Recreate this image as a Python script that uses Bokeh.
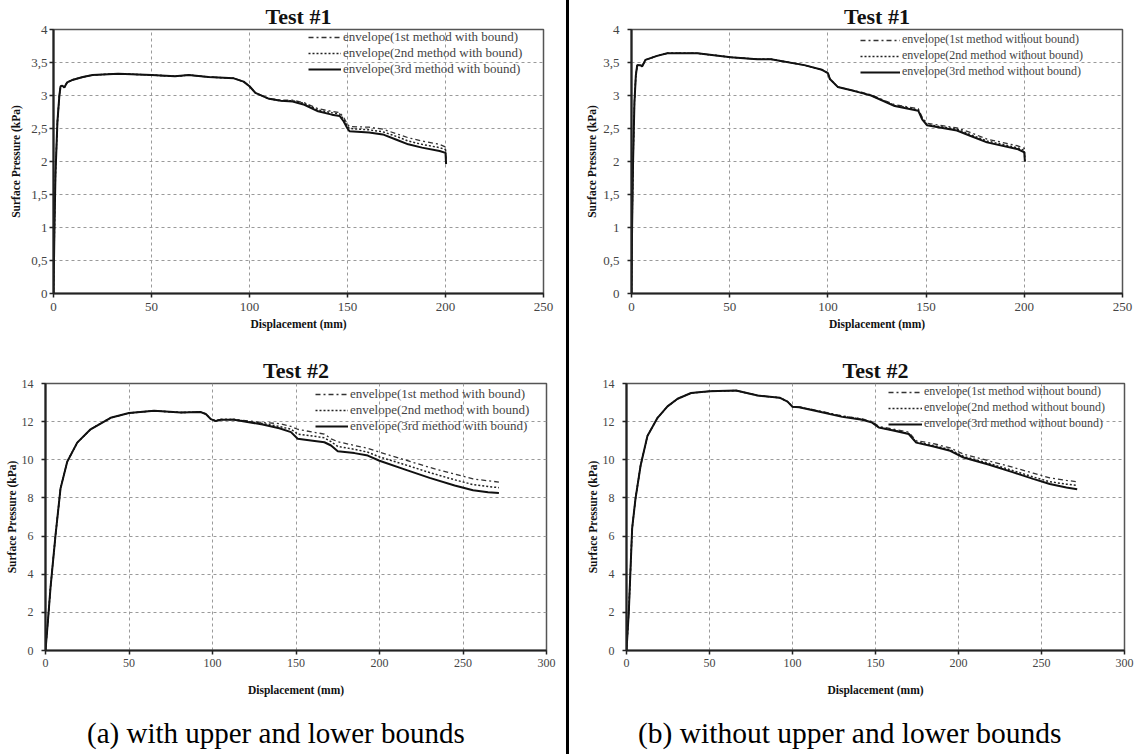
from bokeh.plotting import figure
from bokeh.models import Range1d, FixedTicker, CustomJSTickFormatter, Div
from bokeh.layouts import row, column
from bokeh.embed import file_html
from bokeh.resources import INLINE

# ---------------- data ----------------
# (a) Test #1 -- with bound
x_a1 = [0, 0.5, 1, 2, 3, 3.6, 4.5, 5.5, 7, 10, 15, 20, 33, 50, 62, 69, 79, 92, 97, 100,
        103, 110, 116, 122, 128, 135, 142, 146, 148, 150, 151, 161, 168, 175, 181, 188, 197, 200, 200.3]
a1_m1 = [0, 1.0, 1.8, 2.6, 3.0, 3.14, 3.15, 3.12, 3.2, 3.24, 3.28, 3.31, 3.33, 3.31, 3.29, 3.31, 3.28, 3.26, 3.21, 3.14,
         3.04, 2.95, 2.93, 2.93, 2.89, 2.80, 2.76, 2.74, 2.67, 2.56, 2.53, 2.52, 2.49, 2.42, 2.36, 2.31, 2.26, 2.22, 1.98]
a1_m2 = [0, 1.0, 1.8, 2.6, 3.0, 3.14, 3.15, 3.12, 3.2, 3.24, 3.28, 3.31, 3.33, 3.31, 3.29, 3.31, 3.28, 3.26, 3.21, 3.14,
         3.04, 2.95, 2.92, 2.92, 2.88, 2.78, 2.74, 2.72, 2.64, 2.53, 2.50, 2.48, 2.45, 2.38, 2.31, 2.26, 2.21, 2.18, 1.97]
a1_m3 = [0, 1.0, 1.8, 2.6, 3.0, 3.14, 3.15, 3.12, 3.2, 3.24, 3.28, 3.31, 3.33, 3.31, 3.29, 3.31, 3.28, 3.26, 3.21, 3.14,
         3.04, 2.95, 2.92, 2.91, 2.86, 2.76, 2.71, 2.69, 2.61, 2.50, 2.46, 2.44, 2.41, 2.33, 2.26, 2.21, 2.16, 2.13, 1.96]

# (b) Test #1 -- without bound
x_b1 = [0, 0.3, 0.8, 1.5, 2.2, 2.9, 4.6, 5.4, 7.1, 13, 18.2, 33.5, 50.5, 64, 71, 88, 97, 100, 101, 105,
        112, 117, 122, 134, 146, 148, 150.4, 165.7, 172.4, 181, 196.3, 200, 200.3]
b1_m1 = [0, 1.0, 2.0, 2.9, 3.3, 3.46, 3.46, 3.44, 3.54, 3.6, 3.64, 3.64, 3.58, 3.55, 3.55, 3.46, 3.39, 3.34, 3.25, 3.13,
         3.08, 3.05, 3.01, 2.86, 2.80, 2.67, 2.58, 2.51, 2.44, 2.34, 2.24, 2.20, 2.02]
b1_m2 = [0, 1.0, 2.0, 2.9, 3.3, 3.46, 3.46, 3.44, 3.54, 3.6, 3.64, 3.64, 3.58, 3.55, 3.55, 3.46, 3.39, 3.34, 3.25, 3.13,
         3.08, 3.04, 3.0, 2.85, 2.78, 2.65, 2.56, 2.49, 2.41, 2.31, 2.21, 2.17, 2.0]
b1_m3 = [0, 1.0, 2.0, 2.9, 3.3, 3.46, 3.46, 3.44, 3.54, 3.6, 3.64, 3.64, 3.58, 3.55, 3.55, 3.46, 3.39, 3.34, 3.25, 3.13,
         3.08, 3.04, 3.0, 2.84, 2.77, 2.64, 2.55, 2.47, 2.39, 2.29, 2.19, 2.14, 2.0]

# (a) Test #2 -- with bound
x_a2 = [0, 1.5, 3, 6, 9, 13, 19, 27, 33, 39, 50, 65, 81, 93, 96, 99, 102, 105, 113, 120,
        130, 140, 147, 151, 160, 167, 171, 175, 185, 193, 200, 215, 230, 245, 256, 265, 271.5]
a2_m1 = [0, 1.6, 3.3, 6.05, 8.5, 9.9, 10.9, 11.6, 11.9, 12.2, 12.45, 12.57, 12.48, 12.5, 12.4, 12.13, 12.05, 12.12, 12.12, 12.05,
         11.95, 11.9, 11.75, 11.6, 11.45, 11.35, 11.1, 10.95, 10.75, 10.6, 10.4, 10.0, 9.6, 9.25, 9.0, 8.9, 8.83]
a2_m2 = [0, 1.6, 3.3, 6.05, 8.5, 9.9, 10.9, 11.6, 11.9, 12.2, 12.45, 12.57, 12.48, 12.5, 12.4, 12.13, 12.04, 12.11, 12.11, 12.02,
         11.9, 11.75, 11.6, 11.35, 11.25, 11.15, 10.95, 10.7, 10.55, 10.4, 10.15, 9.75, 9.33, 8.95, 8.7, 8.6, 8.54]
a2_m3 = [0, 1.6, 3.3, 6.05, 8.5, 9.9, 10.9, 11.6, 11.9, 12.2, 12.45, 12.57, 12.48, 12.5, 12.4, 12.13, 12.03, 12.1, 12.1, 12.0,
         11.85, 11.65, 11.45, 11.1, 11.0, 10.92, 10.75, 10.45, 10.35, 10.22, 9.95, 9.5, 9.05, 8.65, 8.4, 8.3, 8.26]

# (b) Test #2 -- without bound
x_b2 = [0, 1.4, 3.4, 5.4, 8.5, 12.6, 18.7, 24.7, 30.8, 38.9, 50, 66, 79, 92.5, 97, 100, 104, 115, 130, 142,
        148, 152, 160, 170, 174.5, 185, 195, 203, 218, 233, 245, 255, 265, 271.5]
b2_m1 = [0, 2.05, 6.4, 7.95, 9.7, 11.25, 12.2, 12.8, 13.2, 13.5, 13.59, 13.63, 13.37, 13.25, 13.05, 12.78, 12.77, 12.58, 12.3, 12.15,
         12.0, 11.75, 11.62, 11.45, 11.0, 10.85, 10.62, 10.3, 9.95, 9.6, 9.3, 9.05, 8.92, 8.85]
b2_m2 = [0, 2.05, 6.4, 7.95, 9.7, 11.25, 12.2, 12.8, 13.2, 13.5, 13.59, 13.63, 13.37, 13.25, 13.05, 12.78, 12.76, 12.57, 12.28, 12.12,
         11.97, 11.7, 11.57, 11.38, 10.93, 10.75, 10.52, 10.18, 9.82, 9.43, 9.1, 8.85, 8.72, 8.65]
b2_m3 = [0, 2.05, 6.4, 7.95, 9.7, 11.25, 12.2, 12.8, 13.2, 13.5, 13.59, 13.63, 13.37, 13.25, 13.05, 12.78, 12.75, 12.55, 12.25, 12.1,
         11.95, 11.69, 11.55, 11.35, 10.9, 10.7, 10.47, 10.12, 9.75, 9.34, 9.0, 8.73, 8.55, 8.45]

x_ticks_t1 = [0, 50, 100, 150, 200, 250]
y_ticks_t1 = [0, 0.5, 1, 1.5, 2, 2.5, 3, 3.5, 4]
x_ticks_t2 = [0, 50, 100, 150, 200, 250, 300]
y_ticks_t2 = [0, 2, 4, 6, 8, 10, 12, 14]

labels_with = ["envelope(1st method with bound)", "envelope(2nd method with bound)", "envelope(3rd method with bound)"]
labels_without = ["envelope(1st method without bound)", "envelope(2nd method without bound)", "envelope(3rd method without bound)"]
titles = ["Test #1", "Test #2"]
x_label = "Displacement (mm)"
y_label = "Surface Pressure (kPa)"
captions = ["(a) with upper and lower bounds", "(b) without upper and lower bounds"]

SERIF = "Liberation Serif"


def make_fig(width, height, xmax, ymax, xticks, yticks, borders, title, x, ys, labels,
             tick_size, ylab_std, ytick_std, xlab_std, xtick_std, leg):
    bl, br, bt, bb = borders
    p = figure(width=width, height=height, x_range=Range1d(0, xmax), y_range=Range1d(0, ymax),
               output_backend="svg", toolbar_location=None, margin=0,
               min_border_left=bl, min_border_right=br, min_border_top=bt, min_border_bottom=bb)
    p.background_fill_color = "white"
    p.border_fill_color = "white"
    p.outline_line_color = "#555555"
    p.outline_line_width = 1.5

    p.title.text = title
    p.title.align = "center"
    p.title.text_font = SERIF
    p.title.text_font_style = "bold"
    p.title.text_font_size = "22px"
    p.title.text_color = "#111111"
    p.title.standoff = 1

    p.xaxis.ticker = FixedTicker(ticks=xticks)
    p.yaxis.ticker = FixedTicker(ticks=yticks)
    p.yaxis.formatter = CustomJSTickFormatter(code="return tick.toString().replace('.', ',');")
    p.xaxis.formatter = CustomJSTickFormatter(code="return tick.toString();")
    for ax in (p.xaxis, p.yaxis):
        ax.axis_line_width = 2.2
        ax.axis_line_color = "#222222"
        ax.major_tick_line_color = "#222222"
        ax.major_tick_line_width = 1.5
        ax.major_tick_out = 4
        ax.major_tick_in = 0
        ax.minor_tick_line_color = None
        ax.major_label_text_font = SERIF
        ax.major_label_text_font_size = tick_size
        ax.major_label_text_color = "#444444"
        ax.axis_label_text_font = SERIF
        ax.axis_label_text_font_style = "bold"
        ax.axis_label_text_font_size = "11.5px"
        ax.axis_label_text_color = "#111111"
    p.xaxis.axis_label = x_label
    p.yaxis.axis_label = y_label
    p.yaxis.axis_label_standoff = ylab_std
    p.yaxis.major_label_standoff = ytick_std
    p.xaxis.axis_label_standoff = xlab_std
    p.xaxis.major_label_standoff = xtick_std

    p.grid.grid_line_color = "#9a9a9a"
    p.grid.grid_line_dash = "3 3"
    p.grid.grid_line_width = 1

    p.line(x, ys[0], line_color="#333333", line_width=1.3, line_dash="5 3 2 3", legend_label=labels[0])
    p.line(x, ys[1], line_color="#222222", line_width=1.5, line_dash="2 2", legend_label=labels[1])
    p.line(x, ys[2], line_color="#111111", line_width=2, legend_label=labels[2])

    vx, vy, gw, sp, fs = leg
    lg = p.legend[0]
    lg.location = (vx, vy)
    lg.glyph_width = gw
    lg.glyph_height = 12
    lg.label_height = 12
    lg.label_standoff = 2
    lg.spacing = sp
    lg.padding = 0
    lg.margin = 0
    lg.border_line_color = None
    lg.background_fill_alpha = 0
    lg.label_text_font = SERIF
    lg.label_text_font_size = fs
    lg.label_text_color = "#444444"
    return p


p1 = make_fig(566, 340, 250, 4, x_ticks_t1, y_ticks_t1, (53, 23, 28, 47), titles[0],
              x_a1, [a1_m1, a1_m2, a1_m3], labels_with, "13px", 6, 2, 4, 5, (255, 216, 33, 0, "13px"))
p2 = make_fig(574, 340, 250, 4, x_ticks_t1, y_ticks_t1, (62, 21, 29, 43), titles[0],
              x_b1, [b1_m1, b1_m2, b1_m3], labels_without, "13px", 2, 8, 4, 5, (229, 214, 40, 1, "12px"))
p3 = make_fig(566, 372, 300, 14, x_ticks_t2, y_ticks_t2, (45, 20, 41, 62), titles[1],
              x_a2, [a2_m1, a2_m2, a2_m3], labels_with, "12px", 1, 8, 14, 4, (270, 216, 33, 0, "13px"))
p4 = make_fig(574, 372, 300, 14, x_ticks_t2, y_ticks_t2, (57, 19, 43, 59), titles[1],
              x_b2, [b2_m1, b2_m2, b2_m3], labels_without, "12px", 1, 8, 14, 4, (262, 219, 34, 1, "12px"))

capA = Div(text=captions[0], width=566, height=42, margin=0,
           styles={"font-family": SERIF, "font-size": "29px", "line-height": "42px", "color": "#000000",
                   "padding-left": "87px", "white-space": "nowrap"})
capB = Div(text=captions[1], width=574, height=42, margin=0,
           styles={"font-family": SERIF, "font-size": "29.5px", "line-height": "42px", "color": "#000000",
                   "padding-left": "69px", "white-space": "nowrap"})


def bar(h):
    return Div(text="", width=3, height=h, margin=0, styles={"background-color": "#000000"})


layout = column(
    row(p1, bar(340), p2, spacing=0),
    row(p3, bar(372), p4, spacing=0),
    row(capA, bar(42), capB, spacing=0),
    spacing=0,
)

open("out.html", "w").write(file_html(layout, INLINE))
